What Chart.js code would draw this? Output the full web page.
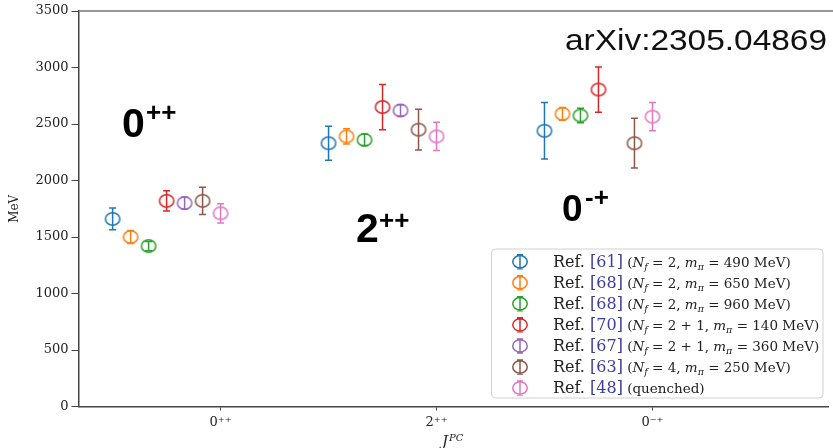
<!DOCTYPE html>
<html>
<head>
<meta charset="utf-8">
<script src="https://cdn.jsdelivr.net/npm/chart.js@4.4.0/dist/chart.umd.min.js"></script>
<style>
  html, body { margin: 0; padding: 0; background: #fff; }
  #wrap { width: 833px; height: 448px; }
</style>
</head>
<body>
<div id="wrap"><canvas id="glueball" width="833" height="448"></canvas></div>
<script>
// J^PC channels on the x axis
var channels = ["0\u207A\u207A", "2\u207A\u207A", "0\u207B\u207A"];
var massTicks = [0, 500, 1000, 1500, 2000, 2500, 3000, 3500];

// glueball masses in MeV, order 0++, 2++, 0-+
var ref61 = [1660, 2330, 2440];
var ref68a = [1500, 2390, 2590];
var ref68b = [1420, 2360, 2575];
var ref70 = [1820, 2650, 2805];
var ref67 = [1800, 2620, null];
var ref63 = [1820, 2450, 2330];
var ref48 = [1710, 2390, 2565];

// errors, same order
var err61 = [96, 150, 250];
var err68a = [58, 68, 56];
var err68b = [41, 50, 65];
var err70 = [90, 200, 200];
var err67 = [53, 50, null];
var err63 = [120, 180, 220];
var err48 = [85, 125, 125];

// legend text pieces
var refNums = ["61", "68", "68", "70", "67", "63", "48"];
var nfVals = ["2", "2", "2", "2 + 1", "2 + 1", "4", null];
var mpiVals = ["490", "650", "960", "140", "360", "250", null];

var colors = ["#1f77b4", "#ff7f0e", "#2ca02c", "#d62728", "#9467bd", "#8c564b", "#e377c2"];

var series = [ref61, ref68a, ref68b, ref70, ref67, ref63, ref48];
var errs = [err61, err68a, err68b, err70, err67, err63, err48];

function ringMarker(color) {
  var c = document.createElement("canvas");
  c.width = 18;
  c.height = 16;
  var g = c.getContext("2d");
  g.strokeStyle = color;
  g.lineWidth = 1.5;
  g.beginPath();
  g.ellipse(9, 8, 7.2, 6.2, 0, 0, 2 * Math.PI);
  g.stroke();
  return c;
}

var datasets = series.map(function (vals, i) {
  var pts = [];
  vals.forEach(function (v, g) {
    if (v == null) return;
    pts.push({ x: g + i / 12 - 0.5, y: v, err: errs[i][g] });
  });
  return {
    label: "Ref. [" + refNums[i] + "]",
    data: pts,
    borderColor: colors[i],
    backgroundColor: "transparent",
    pointStyle: ringMarker(colors[i]),
    showLine: false,
  };
});

var errorBars = {
  id: "errorBars",
  afterDatasetsDraw: function (chart) {
    var ctx = chart.ctx,
      ys = chart.scales.y;
    chart.data.datasets.forEach(function (ds, i) {
      var meta = chart.getDatasetMeta(i);
      ctx.save();
      ctx.strokeStyle = ds.borderColor;
      ctx.lineWidth = 1.5;
      meta.data.forEach(function (pt, j) {
        var raw = ds.data[j];
        var top = ys.getPixelForValue(raw.y + raw.err);
        var bot = ys.getPixelForValue(raw.y - raw.err);
        ctx.beginPath();
        ctx.moveTo(pt.x, top);
        ctx.lineTo(pt.x, bot);
        ctx.moveTo(pt.x - 3.5, top);
        ctx.lineTo(pt.x + 3.5, top);
        ctx.moveTo(pt.x - 3.5, bot);
        ctx.lineTo(pt.x + 3.5, bot);
        ctx.stroke();
      });
      ctx.restore();
    });
  },
};

function drawRuns(ctx, x, y, runs) {
  runs.forEach(function (r) {
    ctx.font = r[1];
    ctx.fillStyle = r[2] || "#222";
    ctx.fillText(r[0], x, y + (r[3] || 0));
    x += ctx.measureText(r[0]).width;
  });
  return x;
}

// text squeezed/stretched to a given width
function drawWide(ctx, text, font, color, x, y, w) {
  ctx.save();
  ctx.font = font;
  ctx.fillStyle = color;
  var k = w / ctx.measureText(text).width;
  ctx.translate(x, y);
  ctx.scale(k, 1);
  ctx.fillText(text, 0, 0);
  ctx.restore();
}

var extras = {
  id: "extras",
  afterDraw: function (chart) {
    var ctx = chart.ctx,
      a = chart.chartArea;
    ctx.save();
    // top spine
    ctx.strokeStyle = "#777";
    ctx.lineWidth = 1.5;
    ctx.beginPath();
    ctx.moveTo(a.left, a.top);
    ctx.lineTo(chart.width, a.top);
    ctx.stroke();

    // x title J^PC
    ctx.textBaseline = "alphabetic";
    ctx.textAlign = "left";
    var tx = drawRuns(ctx, 442, 446, [["J", "italic 15px 'DejaVu Serif'"]]);
    drawRuns(ctx, tx + 1, 441, [["PC", "italic 10px 'DejaVu Serif'"]]);

    // big channel labels
    drawRuns(ctx, 122, 137, [["0", "bold 41px 'Liberation Sans'", "#000"]]);
    drawRuns(ctx, 146, 121, [["++", "bold 26px 'Liberation Sans'", "#000"]]);
    drawRuns(ctx, 356, 242, [["2", "bold 41px 'Liberation Sans'", "#000"]]);
    drawRuns(ctx, 379, 229, [["++", "bold 26px 'Liberation Sans'", "#000"]]);
    drawRuns(ctx, 562, 221, [["0", "bold 37px 'Liberation Sans'", "#000"]]);
    drawRuns(ctx, 585, 206, [["-+", "bold 26px 'Liberation Sans'", "#000"]]);

    drawWide(ctx, "arXiv:2305.04869", "30px 'Liberation Sans'", "#111", 565, 50, 262);

    // legend box
    var bx = 491.5, by = 249, bw = 331.5, bh = 149;
    ctx.fillStyle = "rgba(255,255,255,0.85)";
    ctx.strokeStyle = "#d0d0d0";
    ctx.lineWidth = 1;
    ctx.beginPath();
    ctx.roundRect(bx, by, bw, bh, 4);
    ctx.fill();
    ctx.stroke();

    var sm = "13.5px 'DejaVu Serif'", it = "italic 13.5px 'DejaVu Serif'", sub = "italic 9.5px 'DejaVu Serif'";
    refNums.forEach(function (n, i) {
      var cy = 261.7 + i * 21.05;
      var mx = 520;
      ctx.strokeStyle = colors[i];
      ctx.lineWidth = 1.5;
      ctx.beginPath();
      ctx.ellipse(mx, cy, 7.2, 6.2, 0, 0, 2 * Math.PI);
      ctx.moveTo(mx, cy - 7);
      ctx.lineTo(mx, cy + 7);
      ctx.moveTo(mx - 3, cy - 7);
      ctx.lineTo(mx + 3, cy - 7);
      ctx.moveTo(mx - 3, cy + 7);
      ctx.lineTo(mx + 3, cy + 7);
      ctx.stroke();

      var runs = [
        ["Ref. ", "16px 'DejaVu Serif'", "#222"],
        ["[" + n + "]", "16px 'DejaVu Serif'", "#3d3d9c"],
        [" ", sm],
      ];
      if (nfVals[i] == null) {
        runs.push(["(quenched)", sm]);
      } else {
        runs.push(["(", sm], ["N", it], ["f", sub, "#222", 3], [" = " + nfVals[i] + ", ", sm],
          ["m", it], ["\u03C0", sub, "#222", 3], [" = " + mpiVals[i] + " MeV)", sm]);
      }
      drawRuns(ctx, 553, cy + 5, runs);
    });
    ctx.restore();
  },
};

new Chart(document.getElementById("glueball"), {
  type: "scatter",
  data: { datasets: datasets },
  options: {
    responsive: false,
    animation: false,
    devicePixelRatio: 1,
    layout: { padding: { left: 0, right: 0, top: 11, bottom: 0 } },
    plugins: { legend: { display: false }, tooltip: { enabled: false } },
    scales: {
      x: {
        type: "linear",
        min: -0.658,
        max: 2.813,
        afterBuildTicks: function (s) {
          s.ticks = [0, 1, 2].map(function (v) { return { value: v }; });
        },
        afterFit: function (s) { s.height = 41.5; },
        ticks: {
          autoSkip: false,
          maxRotation: 0,
          padding: 4,
          color: "#222",
          font: { family: "DejaVu Serif", size: 13 },
          callback: function (v) { return channels[v]; },
        },
        grid: { drawOnChartArea: false, tickLength: 4, tickColor: "#444" },
        border: { color: "#444", width: 1.5 },
      },
      y: {
        min: 0,
        max: 3500,
        afterBuildTicks: function (s) {
          s.ticks = massTicks.map(function (v) { return { value: v }; });
        },
        afterFit: function (s) { s.width = 78.5; },
        ticks: {
          padding: 3,
          color: "#222",
          font: { family: "DejaVu Serif", size: 13 },
          callback: function (v) { return String(v); },
        },
        grid: { drawOnChartArea: false, tickLength: 7, tickColor: "#444" },
        border: { color: "#444", width: 1.5 },
        title: {
          display: true,
          text: "MeV",
          color: "#222",
          font: { family: "DejaVu Serif", size: 12 },
          padding: { top: 8, bottom: 0 },
        },
      },
    },
  },
  plugins: [errorBars, extras],
});
</script>
</body>
</html>
